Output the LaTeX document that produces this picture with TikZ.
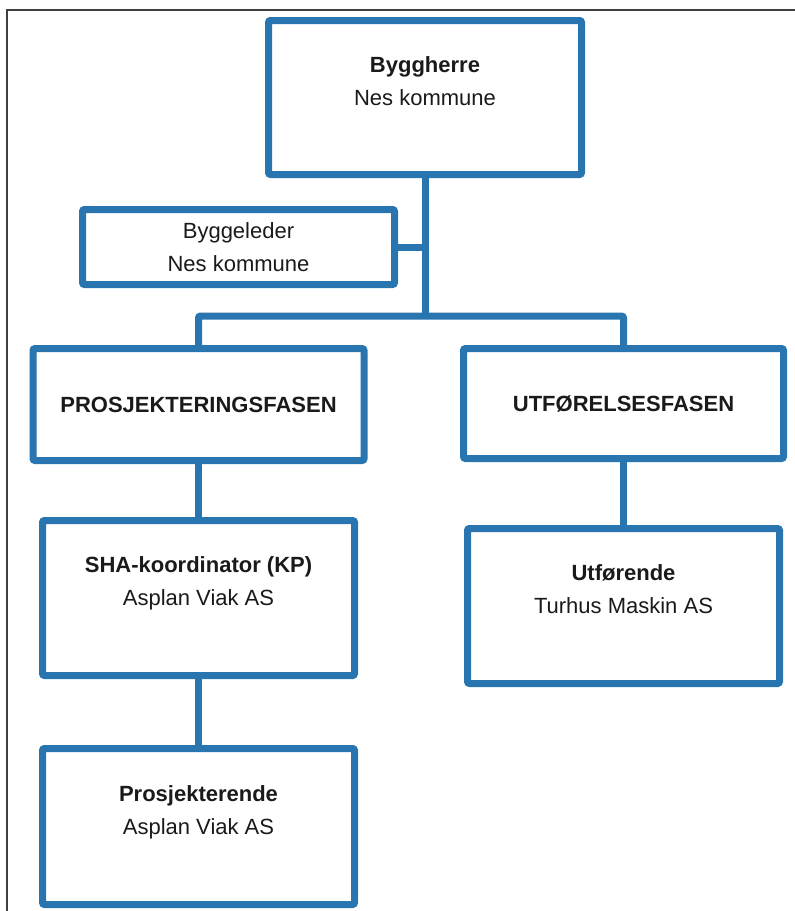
\documentclass[tikz,border=0pt]{standalone}
\usepackage{fontspec}
\setmainfont{Liberation Sans}
\usetikzlibrary{positioning, calc}

\definecolor{orgblue}{RGB}{41,117,176}
\definecolor{orgtext}{RGB}{26,26,26}

\begin{document}
\begin{tikzpicture}[
    x=1pt, y=-1pt,
    orgbox/.style={
        draw=orgblue,
        line width=7pt,
        rounded corners=2pt,
        fill=white,
        inner sep=0pt,
        align=center,
        text=orgtext
    },
    link/.style={
        draw=orgblue,
        line width=7pt,
        rounded corners=2pt
    },
    font=\fontsize{22}{33}\selectfont
]

% Geometry parameters
\def\bw{312pt}  % box width
\def\bh{155pt}  % tall box height
\def\ly{316}    % level of the branch line

% Frame (top and left edge only)
\useasboundingbox (0,0) rectangle (795,911);
\draw[black!75, line width=1.5pt] (7,911) -- (7,10) -- (795,10);

% Boxes
\node[orgbox, minimum width=313pt, minimum height=154pt] (byggherre) at (425,97.5)
    {\textbf{Byggherre}\\Nes kommune\\\mbox{}};
\node[orgbox, minimum width=\bw, minimum height=75pt] (byggeleder) at (238.5,247)
    {Byggeleder\\Nes kommune};
\node[orgbox, minimum width=331pt, minimum height=112pt] (prosjfase) at (198.5,404.5)
    {\textbf{PROSJEKTERINGSFASEN}};
\node[orgbox, minimum width=320pt, minimum height=110pt] (utffase) at (623.5,403.5)
    {\textbf{UTFØRELSESFASEN}};
\node[orgbox, minimum width=\bw, minimum height=\bh] (shakoord) at (198.5,598)
    {\textbf{SHA-koordinator (KP)}\\Asplan Viak AS\\\mbox{}};
\node[orgbox, minimum width=\bw, minimum height=\bh] (utforende) at (623.5,606)
    {\textbf{Utførende}\\Turhus Maskin AS\\\mbox{}};
\node[orgbox, minimum width=\bw, minimum height=156pt] (prosjekterende) at (198.5,826.5)
    {\textbf{Prosjekterende}\\Asplan Viak AS\\\mbox{}};

% Connectors
\coordinate (split) at ($(byggherre.south |- 0,\ly)$);
\draw[link] (byggherre.south) -- (split);
\draw[link] (byggeleder.east) -- (byggeleder.east -| byggherre.south);
\draw[link] (prosjfase.north) |- (split) -| (utffase.north);
\draw[link] (prosjfase.south) -- (shakoord.north);
\draw[link] (shakoord.south) -- (prosjekterende.north);
\draw[link] (utffase.south) -- (utforende.north);

\end{tikzpicture}
\end{document}
